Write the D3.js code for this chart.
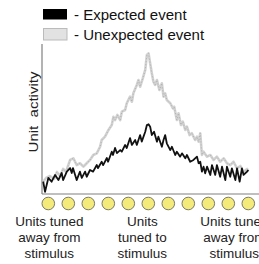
<!DOCTYPE html>
<html>
<head>
<meta charset="utf-8">
<script src="https://cdn.jsdelivr.net/npm/d3@7"></script>
<style>
  body { margin: 0; background: #fff; }
  svg { display: block; font-family: "Liberation Sans", Arial, sans-serif; }
</style>
</head>
<body>
<div id="chart"></div>
<script>
// position along the row of units (0..100) and unit activity (0..100)
const expectedPos = [0.1, 1.0, 2.6, 4.2, 5.9, 7.5, 9.1, 9.8, 11.6, 13.2, 14.0, 14.6, 16.4, 18.0, 18.9, 20.5, 21.3, 22.9, 24.4, 26.2, 26.8, 28.6, 29.3, 31.1, 31.7, 33.5, 34.1, 35.1, 36.0, 37.6, 38.4, 40.0, 40.8, 42.4, 43.3, 44.9, 45.7, 47.3, 48.1, 49.8, 50.6, 51.4, 52.2, 53.0, 54.1, 55.5, 56.2, 57.9, 58.7, 59.5, 60.3, 62.0, 62.8, 64.4, 65.2, 66.8, 67.7, 69.3, 70.1, 71.7, 73.3, 75.0, 75.8, 76.6, 77.4, 78.2, 79.0, 79.9, 81.5, 82.3, 83.9, 84.7, 86.3, 87.2, 88.8, 89.6, 91.2, 92.0, 93.7, 94.5, 95.8, 96.9, 97.7, 99.4, 100];
const expectedVal = [8.2, 1.5, 10.7, 8.2, 12.7, 9.3, 14, 9.3, 14.9, 17.3, 14, 17.3, 9.3, 14.9, 10.7, 14.9, 11.5, 16, 14.9, 19.3, 17.3, 21.5, 19.3, 24, 21.5, 28.2, 26, 30.7, 27.3, 29.3, 28.2, 32.7, 30.7, 37.3, 32.7, 36, 32.7, 39.3, 34.9, 41.5, 46, 46.5, 44.9, 39.3, 41.5, 34.9, 38.2, 31.5, 36, 39.3, 33.8, 29.3, 31.5, 26, 28.2, 24.9, 27.1, 23.8, 26, 21.5, 22.7, 24.9, 20.5, 21.5, 14.9, 18.2, 13.8, 18.2, 12.7, 19.3, 12.7, 19.3, 11.5, 18.2, 9.3, 18.2, 11.5, 17.1, 9.3, 17.1, 8.2, 17.1, 12.7, 14.9, 16];

const unexpectedPos = [0, 1.5, 3.4, 5.4, 6.8, 8.3, 9.8, 11.2, 13.2, 14.8, 16.4, 18.0, 19.7, 21.3, 22.9, 24.5, 26.2, 27.8, 28.6, 30.2, 31.9, 33.5, 34.3, 35.1, 36.2, 37.6, 38.4, 40.0, 40.8, 42.4, 43.3, 44.0, 45.7, 46.5, 47.3, 48.6, 49.8, 50.6, 51.4, 52.2, 53.0, 53.8, 54.6, 55.5, 56.7, 57.9, 58.7, 59.5, 60.3, 62.0, 63.3, 63.9, 65.2, 66.0, 67.2, 68.1, 69.3, 70.1, 71.4, 72.5, 74.1, 75.0, 75.8, 76.6, 77.4, 78.2, 79.9, 81.5, 83.1, 84.7, 86.3, 88.0, 89.6, 91.2, 92.8, 94.5, 96.1, 97.6, 99.4, 100];
const unexpectedVal = [8, 10.7, 12, 10, 14.7, 12, 16.7, 14.7, 22.7, 23.8, 19.3, 20.5, 18.2, 20.5, 22.7, 26, 27.1, 31.5, 36, 38.2, 42.7, 46, 51.5, 49.3, 52.7, 49.3, 54.9, 56, 60.5, 64.9, 61.5, 67.1, 72.7, 76, 71.5, 77.1, 82.7, 92.7, 93.8, 87.1, 80.5, 74.9, 72.7, 76, 69.3, 73.8, 64.9, 67.1, 62.7, 60.5, 57.1, 58.2, 49.3, 53.8, 46, 48.2, 42.7, 44.9, 39.3, 40.5, 36, 38.2, 34.9, 40.5, 26, 28.2, 24.9, 26, 22.7, 24.9, 21.5, 23.8, 20.5, 19.3, 21.5, 17.1, 18.7, 14.7, 16.7, 15.3];

const unitIds = d3.range(11);
const legendLabels = ["- Expected event", "- Unexpected event"];
const groupLabels = [
  {at: 0.05, lines: ["Units tuned", "away from", "stimulus"]},
  {at: 4.7, lines: ["Units", "tuned to", "stimulus"]},
  {at: 9.3, lines: ["Units tuned", "away from", "stimulus"]}
];

const W = 259, H = 264;
const svg = d3.select("#chart").append("svg").attr("width", W).attr("height", H);

const x = d3.scaleLinear().domain([0, 100]).range([43, 248.3]);
const y = d3.scaleLinear().domain([0, 100]).range([194, 44]);
const ux = d3.scaleLinear().domain([0, 10]).range([48.3, 248.3]);

// axes: plain lines, no ticks
svg.append("line").attr("x1", 42).attr("x2", 42).attr("y1", y(100)).attr("y2", y(0))
  .attr("stroke", "#808080").attr("stroke-width", 1.2);
svg.append("line").attr("x1", 42).attr("x2", W).attr("y1", y(0)).attr("y2", y(0))
  .attr("stroke", "#808080").attr("stroke-width", 1.2);

svg.append("text")
  .attr("transform", "translate(38,112) rotate(-90) scale(1,0.8)")
  .attr("text-anchor", "middle")
  .attr("font-size", 15).attr("fill", "#222")
  .style("white-space", "pre")
  .text("Unit  activity");

const line = d3.line().x(d => x(d[0])).y(d => y(d[1]));

const unexpected = d3.zip(unexpectedPos, unexpectedVal);
const expected = d3.zip(expectedPos, expectedVal);

svg.append("path").datum(unexpected).attr("d", line)
  .attr("fill", "none").attr("stroke", "#d2d2d2").attr("stroke-width", 2.6)
  .attr("stroke-linejoin", "round");
svg.append("path").datum(unexpected).attr("d", line)
  .attr("fill", "none").attr("stroke", "#b0b0b0").attr("stroke-width", 1)
  .attr("stroke-dasharray", "1,2");

svg.append("path").datum(expected).attr("d", line)
  .attr("fill", "none").attr("stroke", "#111").attr("stroke-width", 1.8)
  .attr("stroke-linejoin", "round");

// row of units
svg.selectAll("circle.unit").data(unitIds).join("circle")
  .attr("class", "unit")
  .attr("cx", d => ux(d)).attr("cy", 203.5).attr("r", 6.3)
  .attr("fill", "#f4ea7a").attr("stroke", "#7a7a6a").attr("stroke-width", 1);

groupLabels.forEach(g => {
  const t = svg.append("text").attr("text-anchor", "middle")
    .attr("font-size", 13.5).attr("fill", "#222");
  g.lines.forEach((s, i) => {
    t.append("tspan").attr("x", ux(g.at)).attr("y", 226 + i * 15.8).text(s);
  });
});

// legend
const lg = svg.append("g");
lg.append("rect").attr("x", 43).attr("y", 9).attr("width", 24).attr("height", 10.5).attr("fill", "#000");
lg.append("rect").attr("x", 43.5).attr("y", 28.5).attr("width", 23.5).attr("height", 11.5)
  .attr("fill", "#e2e2e2").attr("stroke", "#bbb").attr("stroke-width", 1);
legendLabels.forEach((s, i) => {
  lg.append("text").attr("x", 74).attr("y", 20 + i * 20)
    .attr("font-size", 15).attr("fill", "#111").text(s);
});
</script>
</body>
</html>
